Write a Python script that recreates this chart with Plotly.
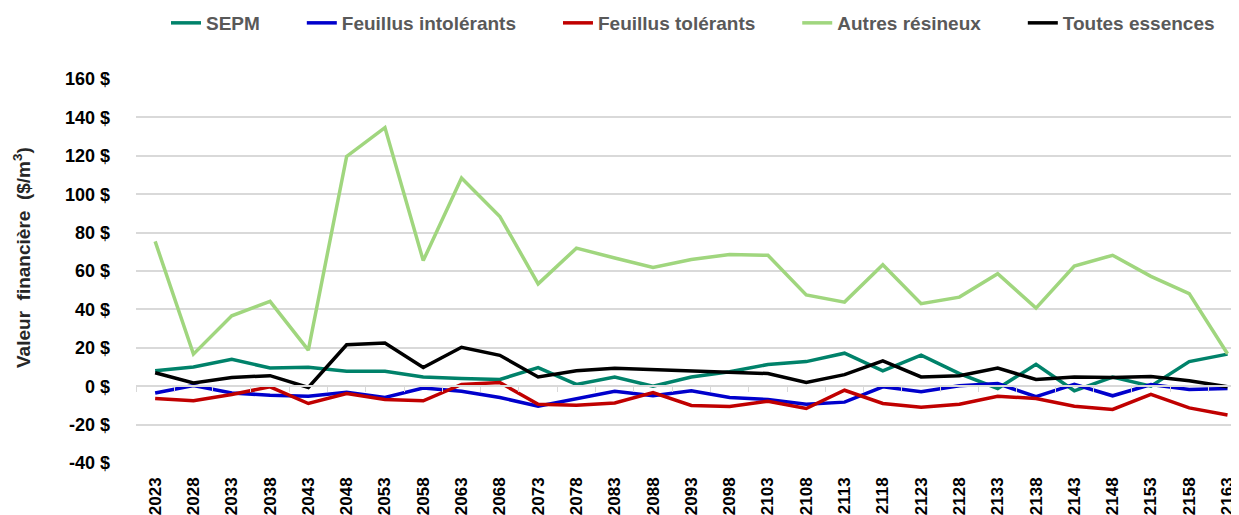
import plotly.graph_objects as go

# categories (years)
years = ["2023", "2028", "2033", "2038", "2043", "2048", "2053", "2058", "2063", "2068",
         "2073", "2078", "2083", "2088", "2093", "2098", "2103", "2108", "2113", "2118",
         "2123", "2128", "2133", "2138", "2143", "2148", "2153", "2158", "2163"]

# series values ($/m3)
sepm = [8, 10, 14, 9.5, 9.9, 7.8, 7.8, 4.8, 4, 3.5, 9.7, 0.9, 4.8, 0, 4.8,
        7.5, 11.3, 12.8, 17.2, 8, 16.2, 6.6, -1.2, 11.4, -2.4, 4.8, 0, 12.8, 16.7]
feuillus_intolerants = [-3.5, 0.4, -3.5, -4.7, -5.2, -3.1, -5.9, -1, -2.6, -5.9, -10.4,
                        -6.4, -2.6, -5, -2.4, -5.9, -6.9, -9.4, -8.3, -0.3, -2.9, 0.2,
                        1.4, -5.5, 1, -5, 0.9, -1.7, -1.2]
feuillus_tolerants = [-6.4, -7.6, -4.3, -0.3, -9, -3.8, -6.9, -7.6, 0.9, 1.9, -9.4,
                      -9.9, -8.7, -3.3, -10, -10.6, -7.8, -11.6, -2.1, -9, -11, -9.4,
                      -5.2, -6.4, -10.4, -12.1, -4.3, -11.3, -15]
autres_resineux = [75.4, 16.7, 36.7, 44.2, 18.8, 119.7, 134.7, 65.4, 108.4, 88.4, 53.3,
                   71.9, 66.8, 61.9, 66, 68.6, 68.2, 47.5, 43.8, 63.3, 43, 46.4, 58.6,
                   40.7, 62.6, 68.2, 57.2, 48.2, 16.9]
toutes_essences = [7, 1.7, 4.5, 5.5, -0.7, 21.6, 22.5, 9.7, 20.3, 16.1, 4.8, 8, 9.4,
                   8.7, 8.2, 7.3, 6.6, 2, 6, 13.2, 4.8, 5.5, 9.4, 3.5, 4.8, 4.5, 5.1,
                   2.8, -0.3]

# y tick labels
y_ticks = [-40, -20, 0, 20, 40, 60, 80, 100, 120, 140, 160]
y_tick_labels = ["-40 $", "-20 $", "0 $", "20 $", "40 $", "60 $", "80 $",
                 "100 $", "120 $", "140 $", "160 $"]

font_family = "Liberation Sans, Arial, sans-serif"

series = [
    ("SEPM", sepm, "#00826A"),
    ("Feuillus intolérants", feuillus_intolerants, "#0000CC"),
    ("Feuillus tolérants", feuillus_tolerants, "#C00000"),
    ("Autres résineux", autres_resineux, "#A0D67E"),
    ("Toutes essences", toutes_essences, "#000000"),
]

# the page body adds an 8px margin, so the figure is 8px smaller than the window
W, H = 1231, 507

fig = go.Figure()

for i, (name, values, color) in enumerate(series):
    # pad legend entries (not the last one) to spread them like the original
    label = name if i == len(series) - 1 else name + "\u00a0" * 7
    fig.add_trace(go.Scatter(
        x=years,
        y=values,
        mode="lines",
        name=label,
        line=dict(color=color, width=3.5),
    ))

# invisible trace so the axis line at 0 (with category ticks) gets drawn
fig.add_trace(go.Scatter(
    x=[0], y=[0], xaxis="x2", mode="markers",
    marker=dict(opacity=0), showlegend=False, hoverinfo="skip",
))

fig.update_layout(
    width=W,
    height=H,
    margin=dict(l=128, r=0, t=71, b=52),
    plot_bgcolor="white",
    paper_bgcolor="white",
    font=dict(family=font_family, color="#000000"),
    showlegend=True,
    legend=dict(
        orientation="h",
        xref="container", yref="container",
        x=158 / W, xanchor="left",
        y=1 - 15 / H, yanchor="middle",
        font=dict(size=19, color="#595959", family=font_family, weight="bold"),
        itemwidth=30,
    ),
    xaxis=dict(
        type="category",
        range=[-0.5, 28.3],
        tickangle=-90,
        ticks="",
        showgrid=False,
        showline=False,
        zeroline=False,
        automargin=False,
        tickfont=dict(size=17, weight="bold", color="#000000"),
        ticklabelstandoff=10,
    ),
    xaxis2=dict(
        overlaying="x",
        anchor="free",
        position=0.2,
        range=[-0.5, 28.3],
        showline=True,
        linecolor="#D9D9D9",
        linewidth=1.5,
        ticks="outside",
        ticklen=5,
        tickcolor="#D9D9D9",
        tickvals=[i - 0.5 for i in range(len(years) + 1)],
        showticklabels=False,
        showgrid=False,
        zeroline=False,
    ),
    yaxis=dict(
        range=[-40, 160],
        tickvals=y_ticks,
        ticktext=y_tick_labels,
        showgrid=True,
        gridcolor="#D9D9D9",
        gridwidth=1.5,
        zeroline=False,
        showline=False,
        ticks="",
        ticklabelstandoff=25,
        automargin=False,
        tickfont=dict(size=18, weight="bold", color="#000000"),
    ),
)

# y axis title as an annotation so it can sit where the original has it
fig.add_annotation(
    text="Valeur  financière  ($/m<sup>3</sup>)",
    xref="paper", yref="paper",
    x=(22 - 136) / 1103, y=(463 - 257) / 384,
    xanchor="center", yanchor="middle",
    textangle=-90, showarrow=False,
    font=dict(size=19, weight="bold", color="#262626", family=font_family),
)

fig.write_html("out.html")
